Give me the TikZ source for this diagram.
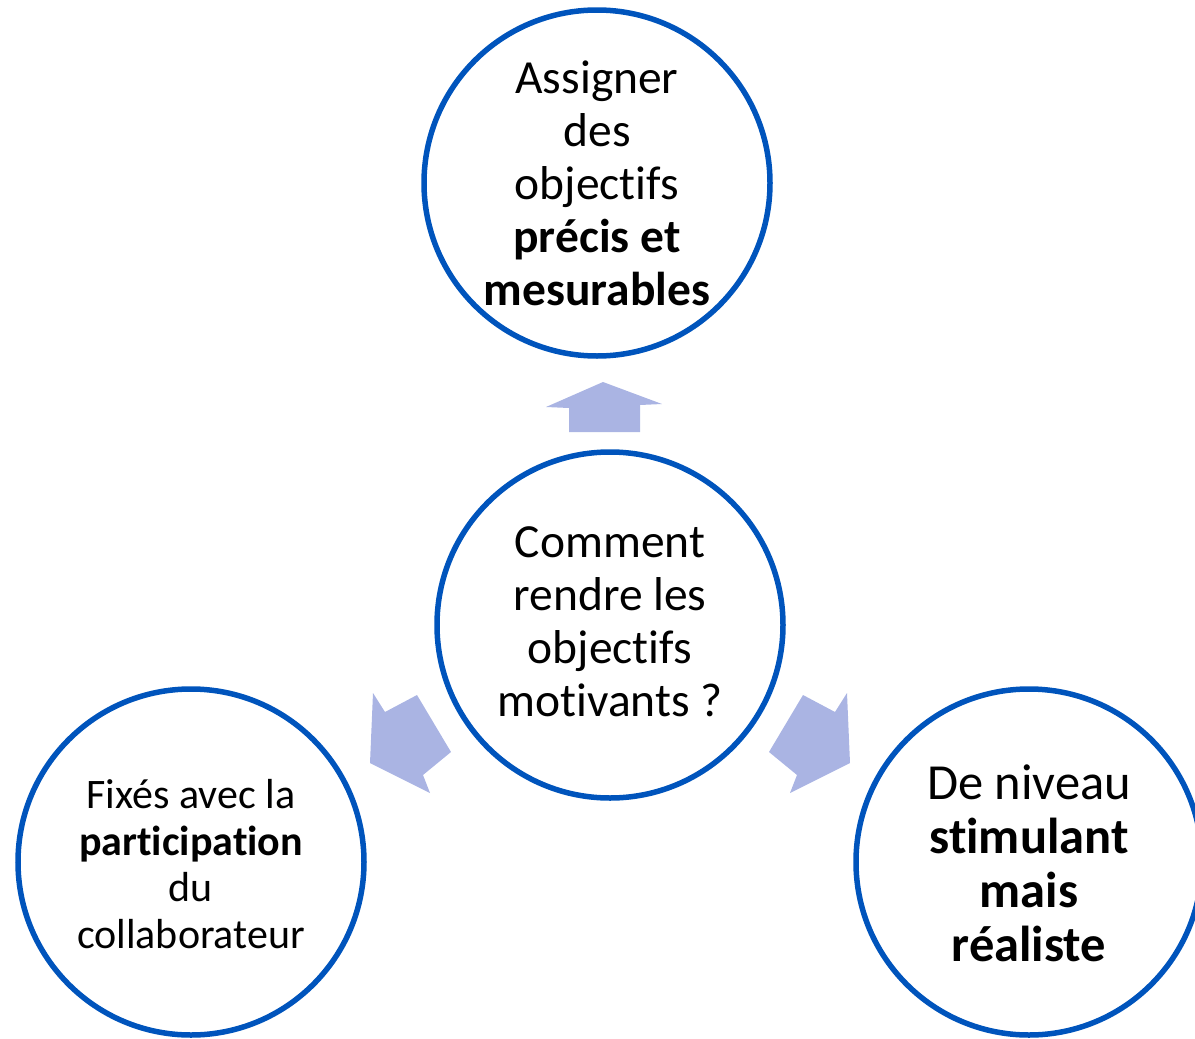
\documentclass[tikz,border=0pt]{standalone}
\usepackage{fontspec}
\setmainfont{Carlito}[Ligatures=NoCommon]
\definecolor{ringblue}{RGB}{0,84,188}
\definecolor{arrowfill}{RGB}{170,180,227}
\begin{document}
\begin{tikzpicture}[x=1pt,y=-1pt,
  ring/.style={circle,draw=ringblue,line width=5.5pt,minimum size=346pt,inner sep=0pt},
  bigtxt/.style={align=center,inner sep=0pt,font=\fontsize{47.5}{53}\selectfont},
  midtxt/.style={align=center,inner sep=0pt,font=\fontsize{50.5}{54}\selectfont},
  smalltxt/.style={align=center,inner sep=0pt,font=\fontsize{42}{46.5}\selectfont},
  blockarrow/.style={fill=arrowfill,draw=none}]
\useasboundingbox (0,0) rectangle (1195,1039);
\clip (0,0) rectangle (1195,1039);
% circles
\node[ring] (top) at (597,183) {};
\node[ring] (mid) at (610,625) {};
\node[ring] (left) at (191,862) {};
\node[ring] (right) at (1029,862) {};
% texts
\node[bigtxt] (toptext) at (597,183) {Assigner\\des\\objectifs\\\textbf{précis et}\\\textbf{mesurables}};
\node[bigtxt] (midtext) at (610,622) {Comment\\rendre les\\objectifs\\motivants ?};
\node[smalltxt] (lefttext) at (191,864) {Fixés avec la\\\textbf{participation}\\du\\collaborateur};
\node[midtxt] (righttext) at (1029,863) {De niveau\\\textbf{stimulant}\\\textbf{mais}\\\textbf{réaliste}};
% block arrows
\fill[blockarrow] (603,382) -- (662,404) -- (640,405) -- (640,432) -- (569,432) -- (569,408) -- (546,407) -- cycle;
\fill[blockarrow] (373,693) -- (385,712) -- (417,695) -- (451,752) -- (423,775) -- (430,793) -- (370,763) -- cycle;
\fill[blockarrow] (847,693) -- (835,712) -- (803,695) -- (769,752) -- (797,775) -- (790,793) -- (850,763) -- cycle;
\end{tikzpicture}
\end{document}
